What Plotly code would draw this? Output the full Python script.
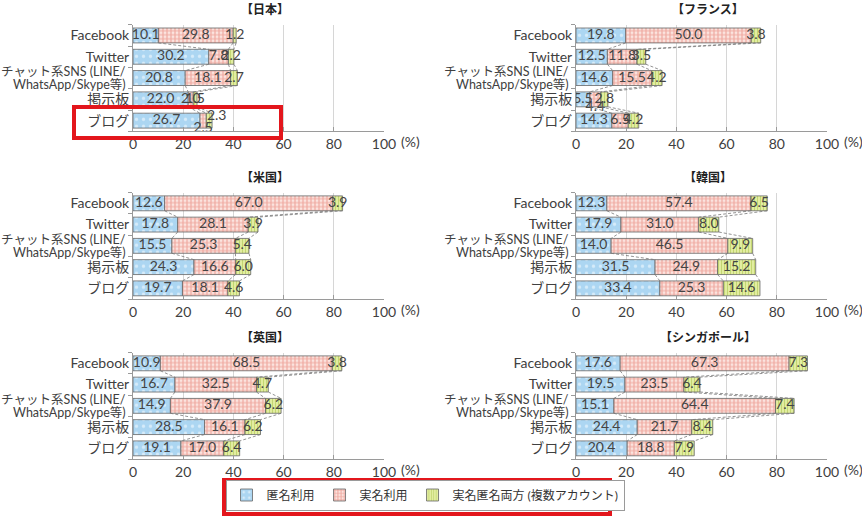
import plotly.graph_objects as go

categories = ["Facebook", "Twitter", "チャット系SNS (LINE/<br>WhatsApp/Skype等)", "掲示板", "ブログ"]
countries = ["【日本】", "【フランス】", "【米国】", "【韓国】", "【英国】", "【シンガポール】"]
series_names = ["匿名利用", "実名利用", "実名匿名両方 (複数アカウント)"]

japan_anon = [10.1, 30.2, 20.8, 22.0, 26.7]
japan_real = [29.8, 7.8, 18.1, 2.0, 2.5]
japan_both = [1.2, 2.2, 2.7, 1.5, 2.3]

france_anon = [19.8, 12.5, 14.6, 5.5, 14.3]
france_real = [50.0, 11.8, 15.5, 4.4, 6.5]
france_both = [3.8, 3.5, 4.2, 2.8, 4.2]

us_anon = [12.6, 17.8, 15.5, 24.3, 19.7]
us_real = [67.0, 28.1, 25.3, 16.6, 18.1]
us_both = [3.9, 3.9, 5.4, 6.0, 4.6]

korea_anon = [12.3, 17.9, 14.0, 31.5, 33.4]
korea_real = [57.4, 31.0, 46.5, 24.9, 25.3]
korea_both = [6.5, 8.0, 9.9, 15.2, 14.6]

uk_anon = [10.9, 16.7, 14.9, 28.5, 19.1]
uk_real = [68.5, 32.5, 37.9, 16.1, 17.0]
uk_both = [3.8, 4.7, 6.2, 6.2, 6.4]

sg_anon = [17.6, 19.5, 15.1, 24.4, 20.4]
sg_real = [67.3, 23.5, 64.4, 21.7, 18.8]
sg_both = [7.3, 6.4, 7.4, 8.4, 7.9]

x_ticks = [0, 20, 40, 60, 80, 100]

panels = [
    (japan_anon, japan_real, japan_both),
    (france_anon, france_real, france_both),
    (us_anon, us_real, us_both),
    (korea_anon, korea_real, korea_both),
    (uk_anon, uk_real, uk_both),
    (sg_anon, sg_real, sg_both),
]

# label nudges (panel, category, series) -> (dx in data units, dy in rows)
nudges = {
    (0, 4, 1): (0.0, 0.38),
    (0, 4, 2): (3.0, -0.18),
    (1, 3, 1): (0.0, 0.38),
}

W, H = 862, 517
col_x = [(133, 384), (576, 827)]
row_y = [(24.8, 131.3), (192.7, 299.0), (352.7, 459.0)]

styles = [
    dict(bg="#acd6f2", fg="#ffffff", shape=".", size=7, solidity=0.18),
    dict(bg="#fbe3de", fg="#e26e62", shape="+", size=4, solidity=0.5),
    dict(bg="#e2eda0", fg="#a3c044", shape="|", size=3, solidity=0.35),
]

fig = go.Figure()
BW = 0.7
ypos = list(range(len(categories)))
FONT = "Lato, Noto Sans CJK JP"

for p, data in enumerate(panels):
    r, c = divmod(p, 2)
    ax = "" if p == 0 else str(p + 1)
    xa, ya = "x" + ax, "y" + ax
    base = [0.0] * len(categories)
    cums = []
    for s, vals in enumerate(data):
        st = styles[s]
        fig.add_trace(go.Bar(
            x=vals, y=ypos, base=base, orientation="h", width=BW,
            name=series_names[s], showlegend=(p == 0), legendgroup=str(s),
            marker=dict(color=st["bg"], line=dict(color="#666666", width=0.8),
                        pattern=dict(shape=st["shape"], fgcolor=st["fg"], bgcolor=st["bg"],
                                     size=st["size"], solidity=st["solidity"], fillmode="overlay")),
            xaxis=xa, yaxis=ya, hoverinfo="skip",
        ))
        tx, ty = [], []
        for i, v in enumerate(vals):
            dx, dy = nudges.get((p, i, s), (0.0, 0.0))
            tx.append(base[i] + v / 2 + dx)
            ty.append(i + dy)
        fig.add_trace(go.Scatter(
            x=tx, y=ty, mode="text", text=[f"{v:.1f}" for v in vals],
            textfont=dict(size=14, color="#444444", family=FONT),
            showlegend=False, xaxis=xa, yaxis=ya, hoverinfo="skip",
        ))
        base = [b + v for b, v in zip(base, vals)]
        cums.append(base)
    # series lines
    lx, ly = [], []
    for cum in cums:
        for i in range(len(categories) - 1):
            lx += [cum[i], cum[i + 1], None]
            ly += [i + BW / 2, i + 1 - BW / 2, None]
    fig.add_trace(go.Scatter(
        x=lx, y=ly, mode="lines", line=dict(color="#777777", width=0.8, dash="3px,2px"),
        showlegend=False, xaxis=xa, yaxis=ya, hoverinfo="skip",
    ))

    x0, x1 = col_x[c]
    y0, y1 = row_y[r]
    xd = [x0 / W, x1 / W]
    yd = [1 - y1 / H, 1 - y0 / H]
    fig.layout["xaxis" + ax] = dict(
        domain=xd, range=[0, 100], anchor=ya, tickvals=x_ticks,
        ticktext=[str(t) for t in x_ticks], showgrid=False, zeroline=False,
        showline=True, linecolor="#9a9a9a", linewidth=1,
        ticks="inside", ticklen=4, tickcolor="#9a9a9a", automargin=False,
        tickfont=dict(size=14, color="#404040"),
        minor=dict(tickvals=[20, 40, 60, 80], showgrid=True, gridcolor="#d6d6d6", gridwidth=1, ticks=""),
    )
    fig.layout["yaxis" + ax] = dict(
        domain=yd, range=[4.5, -0.5], anchor=xa, tickvals=ypos,
        ticktext=[("" if "<br>" in t else t) for t in categories],
        showgrid=False, zeroline=False, showline=True, linecolor="#9a9a9a", linewidth=1,
        ticks="", tickfont=dict(size=14, color="#404040"), automargin=False,
        minor=dict(tick0=0.5, dtick=1, ticks="outside", ticklen=4, tickcolor="#9a9a9a", showgrid=False),
    )
    # multi-line category labels with tight line spacing
    for i, t in enumerate(categories):
        if "<br>" in t:
            parts = t.split("<br>")
            n = len(parts)
            for k, part in enumerate(parts):
                fig.add_annotation(x=xd[0] - 5 / W, y=i, xref="paper", yref=ya, text=part,
                                   showarrow=False, xanchor="right", yanchor="middle",
                                   yshift=(-(k - (n - 1) / 2)) * 13,
                                   font=dict(size=12.5, color="#404040"))
    fig.add_annotation(x=(xd[0] + xd[1]) / 2 + 6 / W, y=1 - (y0 - 15) / H, xref="paper", yref="paper",
                       text="<b>" + countries[p] + "</b>", showarrow=False,
                       font=dict(size=12, color="#222222"), xanchor="center", yanchor="middle")
    fig.add_annotation(x=100, y=4.5, xref=xa, yref=ya, text="(%)", showarrow=False,
                       xanchor="left", yanchor="top", xshift=15, yshift=0,
                       font=dict(size=14, color="#404040"))

# red highlight boxes
fig.add_shape(type="rect", xref="paper", yref="paper",
              x0=74 / W, x1=281 / W, y0=1 - 138 / H, y1=1 - 107 / H,
              line=dict(color="#e3161c", width=4))
fig.add_shape(type="rect", xref="paper", yref="paper",
              x0=224 / W, x1=610 / W, y0=1 - 514 / H, y1=1 - 480 / H,
              line=dict(color="#e3161c", width=4))

fig.update_layout(
    width=W, height=H, margin=dict(l=0, r=0, t=0, b=0, autoexpand=False),
    paper_bgcolor="white", plot_bgcolor="white",
    barmode="overlay", bargap=0.3,
    font=dict(family=FONT, size=13, color="#404040"),
    legend=dict(orientation="h", x=425 / W, y=1 - 495 / H, xanchor="center", yanchor="middle",
                bordercolor="#9a9a9a", borderwidth=1, font=dict(size=12, color="#333333"),
                traceorder="normal", itemwidth=30, tracegroupgap=0),
)

fig.write_html("out.html", config={"displayModeBar": False},
               post_script="document.body.style.margin='0';")
